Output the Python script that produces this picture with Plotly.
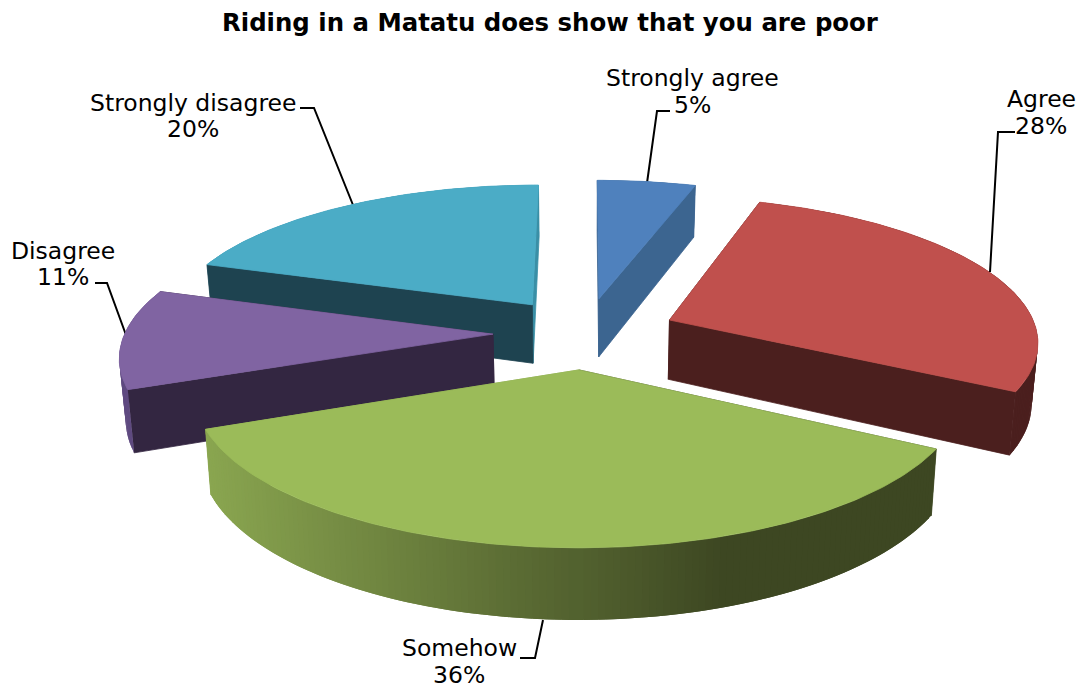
import math
import plotly.graph_objects as go

categories = ["Strongly agree", "Agree", "Somehow", "Disagree", "Strongly disagree"]
values = [5, 28, 36, 11, 20]
percent_labels = ["5%", "28%", "36%", "11%", "20%"]
top_colors = ["#4F81BD", "#C0504D", "#9BBB59", "#8064A2", "#4BACC6"]
first_wall_colors = ["#3C6590", "#4B1F1E", "#3D4722", "#332641", "#1E4350"]
last_wall_colors = ["#3C6590", "#4B1F1E", "#8AA650", "#332641", "#3A8FA6"]
side_colors = ["#3C6590", "#4B1F1E", "#3D4722", "#5F4A80", "#3A8FA6"]
title_text = "Riding in a Matatu does show that you are poor"

# projection parameters
CX, CY, AX, BY, HZ, K, EXPL, TAPER = 585, 333, 368, 143, 60, 0.1346, 0.25, 0.014
GRAD_L, GRAD_R = (0x8A, 0xA6, 0x50), (0x3D, 0x47, 0x22)


def proj(X, Y, down=0):
    p = 1 / (1 + K * Y)
    return CX + AX * X * p * (1 - TAPER * down), CY - BY * Y * p + HZ * down * p


def poly(fig, pts, color, width=0.8):
    xs = [q[0] for q in pts] + [pts[0][0]]
    ys = [q[1] for q in pts] + [pts[0][1]]
    fig.add_trace(go.Scatter(x=xs, y=ys, mode="lines", fill="toself", fillcolor=color,
                             line=dict(color=color, width=width), hoverinfo="skip", showlegend=False))


def green_grad(px):
    t = min(1, max(0, (px - 205) / (720 - 205)))
    c = [round(a + (b - a) * t) for a, b in zip(GRAD_L, GRAD_R)]
    return "rgb(%d,%d,%d)" % tuple(c)


fig = go.Figure()
total = sum(values)
slices = []
acc = 0
for i, v in enumerate(values):
    slices.append((i, 2 * math.pi * acc / total, 2 * math.pi * (acc + v) / total))
    acc += v

# paint back to front
for i, a0, a1 in [slices[j] for j in (4, 0, 3, 1, 2)]:
    mid = (a0 + a1) / 2
    ox, oy = EXPL * math.sin(mid), EXPL * math.cos(mid)
    n = max(8, int((a1 - a0) * 60))
    rim = [(ox + math.sin(a0 + (a1 - a0) * k / n), oy + math.cos(a0 + (a1 - a0) * k / n)) for k in range(n + 1)]
    quads = []
    for end, col in ((rim[0], first_wall_colors[i]), (rim[-1], last_wall_colors[i])):
        pts = [proj(ox, oy), proj(*end), proj(*end, 1), proj(ox, oy, 1)]
        quads.append(((oy + end[1]) / 2, pts, col, 0.8))
    for k in range(n):
        a, b = rim[k], rim[min(k + 2, n)]
        pts = [proj(*a), proj(*b), proj(*b, 1), proj(*a, 1)]
        col = green_grad((pts[0][0] + pts[1][0]) / 2) if i == 2 else side_colors[i]
        quads.append(((a[1] + b[1]) / 2, pts, col, 0))
    for _, pts, col, w in sorted(quads, key=lambda q: -q[0]):
        poly(fig, pts, col, w)
    poly(fig, [proj(ox, oy)] + [proj(*r) for r in rim], top_colors[i])

FONT = "DejaVu Sans"
name_pos = [(692, 78), (1041, 99), (459, 648), (63, 251), (193, 103)]
pct_pos = [(692, 105), (1041, 126), (459, 675), (63, 277), (193, 129)]
for t, (x, y) in list(zip(categories, name_pos)) + list(zip(percent_labels, pct_pos)):
    fig.add_annotation(x=x, y=y, text=t, showarrow=False, xanchor="center", yanchor="middle",
                       font=dict(family=FONT, size=23.5, color="black"))
fig.add_annotation(x=550, y=22, text="<b>%s</b>" % title_text, showarrow=False, xanchor="center",
                   yanchor="middle", font=dict(family=FONT, size=24.4, color="black"))

leaders = [
    "M647,183 L657,111 L670,111",
    "M990,272 L998,132 L1015,132",
    "M543,620 L535,658 L520,658",
    "M126,335 L107,283 L95,283",
    "M353,205 L314,108 L300,108",
]
for d in leaders:
    fig.add_shape(type="path", path=d, xref="x", yref="y", line=dict(color="black", width=2), layer="below")

fig.update_xaxes(range=[0, 1083], visible=False, fixedrange=True)
fig.update_yaxes(range=[690, 0], visible=False, fixedrange=True)
fig.update_layout(width=1083, height=690, margin=dict(l=0, r=0, t=0, b=0), paper_bgcolor="white",
                  plot_bgcolor="white", showlegend=False)
fig.write_html("out.html", config={"displayModeBar": False},
               post_script="document.body.style.margin='0';document.documentElement.style.overflow='hidden';")
